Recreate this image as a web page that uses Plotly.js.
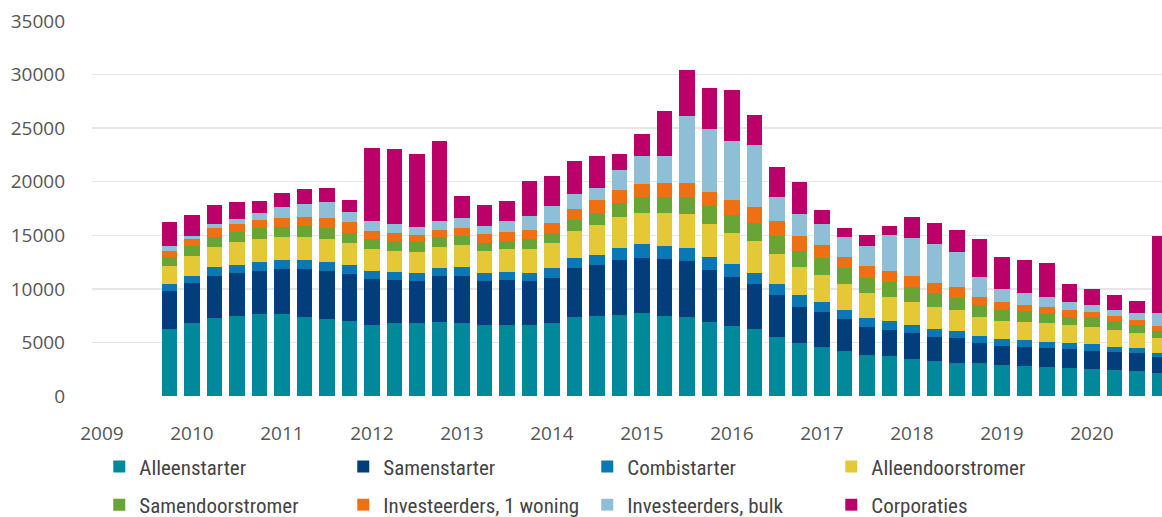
<!DOCTYPE html>
<html>
<head>
<meta charset="utf-8">
<script src="https://cdn.plot.ly/plotly-3.0.1.min.js"></script>
<style>
html,body{margin:0;padding:0;background:#fff;}
#chart{width:1162px;height:517px;}
</style>
</head>
<body>
<div id="chart"></div>
<script>
// Quarters 2009-Q4 .. 2020-Q4
const quarters = [];
for (let y = 2009; y <= 2020; y++) {
  for (let q = 1; q <= 4; q++) {
    if (y === 2009 && q < 4) continue;
    quarters.push(y + "-Q" + q);
  }
}
const yearTicks = [2009,2010,2011,2012,2013,2014,2015,2016,2017,2018,2019,2020];
const yearLabels = ["2009","2010","2011","2012","2013","2014","2015","2016","2017","2018","2019","2020"];

const alleenstarter = [6290,6850,7320,7510,7630,7630,7410,7230,7040,6670,6790,6790,6890,6850,6640,6640,6640,6850,7350,7480,7570,7730,7480,7410,6940,6540,6230,5540,4980,4610,4235,3830,3740,3430,3270,3115,3055,2900,2805,2740,2590,2495,2430,2335,2180];
const samenstarter = [3520,3680,3890,3990,4050,4205,4420,4450,4360,4270,4050,3955,4265,4360,4110,4205,4110,4205,4580,4765,5140,5140,5330,5170,4830,4610,4235,3900,3365,3210,2930,2650,2430,2425,2270,2270,1865,1775,1805,1720,1805,1740,1680,1655,1495];
const combistarter = [650,690,870,750,840,870,870,840,840,730,775,775,785,870,775,775,775,870,935,935,1095,1310,1155,1220,1245,1155,1055,1030,1095,995,870,780,840,780,690,690,685,625,625,620,530,625,500,470,375];
const alleendoorstromer = [1710,1870,1870,2090,2120,2180,2120,2180,2025,2045,1965,1965,1965,2025,1965,2090,2215,2340,2555,2805,2895,2900,3115,3210,3055,2895,2960,2775,2590,2490,2400,2400,2270,2180,2115,1965,1805,1740,1710,1715,1715,1620,1560,1460,1400];
const samendoorstromer = [810,870,935,935,1000,935,1060,935,935,900,905,880,900,840,785,780,870,930,1030,1095,1310,1490,1490,1555,1680,1715,1655,1710,1460,1555,1495,1400,1400,1340,1310,1150,1095,1000,1000,870,780,935,870,715,625];
const investeerders1 = [590,690,750,780,780,750,840,935,1000,750,715,620,715,715,840,775,905,935,995,1245,1245,1245,1310,1310,1310,1400,1495,1340,1465,1245,1085,1030,1030,1000,935,1030,780,775,560,680,625,405,440,470,490];
const investeerdersBulk = [440,310,405,470,650,1030,1180,1495,1000,950,875,780,775,935,780,1115,1245,1620,1435,1095,1870,2555,2555,6290,5860,5450,5825,2280,2025,1930,1810,1870,3335,3550,3585,3175,1810,1185,1150,935,775,685,560,685,1160];
const corporaties = [2240,1930,1810,1620,1150,1370,1400,1340,1090,6790,7010,6850,7540,2090,1960,1785,3270,2740,3020,3015,1495,2120,4140,4235,3795,4765,2805,2800,2990,1340,870,1090,840,2000,1965,2055,3550,3020,3055,3120,1655,1525,1400,1120,7230];

const seriesNames = ["Alleenstarter","Samenstarter","Combistarter","Alleendoorstromer","Samendoorstromer","Investeerders, 1 woning","Investeerders, bulk","Corporaties"];
const seriesData = [alleenstarter,samenstarter,combistarter,alleendoorstromer,samendoorstromer,investeerders1,investeerdersBulk,corporaties];
const seriesColors = ["#00899b","#013e7b","#0b78b6","#e5c835","#69a535","#ee7012","#8fbfd7","#bb0069"];

// quarter label -> numeric position on the time axis (start of quarter)
function qpos(label){
  const [y,q] = label.split("-Q");
  return Number(y) + (Number(q)-1)/4;
}
const xs = quarters.map(qpos);

const traces = seriesNames.map((name,i)=>({
  type:"bar",
  name:name,
  x:xs,
  y:seriesData[i],
  width:0.167,
  marker:{color:seriesColors[i], line:{width:0}},
  legend: i < 4 ? "legend" : "legend2",
  hoverinfo:"name+y"
}));

const tickFont = {family:"'Open Sans', 'DejaVu Sans', sans-serif", size:19, color:"#555"};
const legFont = {family:"'Liberation Sans Narrow', 'Roboto Condensed', 'Noto Sans', sans-serif", size:21, color:"#444"};

const layout = {
  width:1162, height:517,
  margin:{l:92, r:0, t:21, b:121, autoexpand:false},
  barmode:"stack",
  bargap:0,
  paper_bgcolor:"#fff",
  plot_bgcolor:"#fff",
  showlegend:true,
  xaxis:{
    range:[2008.889, 2020.778],
    tickvals:yearTicks,
    ticktext:yearLabels,
    showgrid:false,
    zeroline:false,
    showline:false,
    ticks:"",
    ticklabelstandoff:24,
    tickfont:tickFont
  },
  yaxis:{
    range:[0,35000],
    tickvals:[0,5000,10000,15000,20000,25000,30000,35000],
    ticktext:["0","5000","10000","15000","20000","25000","30000","35000"],
    showgrid:true,
    gridcolor:"#e6e6e6",
    gridwidth:1.5,
    zeroline:false,
    showline:false,
    ticks:"",
    ticklabelstandoff:26,
    tickfont:tickFont
  },
  legend:{
    orientation:"h",
    x:0.0068, y:-0.134, xanchor:"left", yanchor:"top",
    entrywidth:199, entrywidthmode:"pixels",
    font:legFont, bgcolor:"rgba(0,0,0,0)", traceorder:"normal"
  },
  legend2:{
    orientation:"h",
    x:0.0068, y:-0.236, xanchor:"left", yanchor:"top",
    entrywidth:199, entrywidthmode:"pixels",
    font:legFont, bgcolor:"rgba(0,0,0,0)", traceorder:"normal"
  }
};

Plotly.newPlot("chart", traces, layout, {displayModeBar:false, staticPlot:true});
</script>
</body>
</html>
